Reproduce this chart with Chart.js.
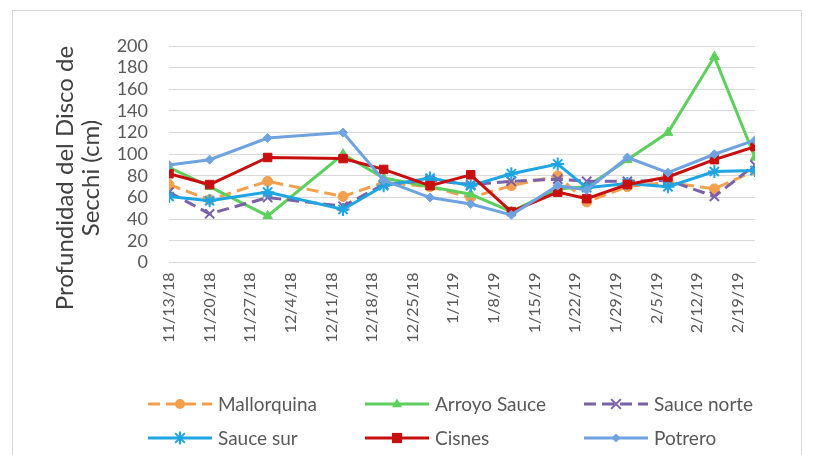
<!DOCTYPE html>
<html>
<head>
<meta charset="utf-8">
<script src="https://cdn.jsdelivr.net/npm/chart.js@4/dist/chart.umd.min.js"></script>
<style>
  html, body { margin: 0; padding: 0; background: #ffffff; }
  #wrap { position: relative; width: 814px; height: 455px; overflow: hidden; }
  #frame { position: absolute; left: 12px; top: 10px; width: 790px; height: 470px;
           border: 1px solid #d9d9d9; box-sizing: border-box; }
  canvas { position: absolute; left: 0; top: 0; }
</style>
</head>
<body>
<div id="wrap">
  <div id="frame"></div>
  <canvas id="c" width="814" height="455"></canvas>
</div>
<script>
// Sampling dates (m/d/yy)
const sampleDates = ['11/13/18', '11/20/18', '11/30/18', '12/13/18', '12/20/18', '12/28/18', '1/4/19',
                     '1/11/19', '1/19/19', '1/24/19', '1/31/19', '2/7/19', '2/15/19', '2/22/19'];

// Weekly axis labels
const tickLabels = ['11/13/18', '11/20/18', '11/27/18', '12/4/18', '12/11/18', '12/18/18', '12/25/18',
                    '1/1/19', '1/8/19', '1/15/19', '1/22/19', '1/29/19', '2/5/19', '2/12/19', '2/19/19'];

// Secchi disk depth (cm) per site
const mallorquina = [72, 58, 75, 61, 74, 70, 60, 71, 80, 56, 70, 74, 68, 85];
const arroyoSauce = [88, 70, 43, 100, 78, 70, 63, 47, 68, 70, 95, 120, 190, 97];
const sauceNorte  = [65, 45, 60, 52, 72, 76, 72, 75, 77, 75, 75, 76, 61, 90];
const sauceSur    = [61, 57, 65, 49, 71, 78, 71, 82, 91, 69, 73, 70, 84, 85];
const cisnes      = [82, 72, 97, 96, 86, 71, 81, 47, 65, 59, 72, 79, 95, 107];
const potrero     = [90, 95, 115, 120, 76, 60, 54, 44, 71, 67, 97, 83, 100, 113];

const seriesNames = ['Mallorquina', 'Arroyo Sauce', 'Sauce norte', 'Sauce sur', 'Cisnes', 'Potrero'];

const FONT = 'Lato, "Liberation Sans", sans-serif';

function dayIndex(label) {
  const [m, d, y] = label.split('/').map(Number);
  return Date.UTC(2000 + y, m - 1, d) / 86400000;
}
const day0 = dayIndex(tickLabels[0]);
const dayOf = (label) => dayIndex(label) - day0;
const toPoints = (values) => values.map((v, i) => ({ x: dayOf(sampleDates[i]), y: v }));

const styles = [
  { color: '#F2A04E', point: 'circle',   radius: 5,   dash: [12, 6], pbw: 1 },
  { color: '#5CCF5C', point: 'triangle', radius: 5.5, dash: [],      pbw: 1 },
  { color: '#7A62A8', point: 'crossRot', radius: 6.5, dash: [12, 6], pbw: 2 },
  { color: '#1EA5E3', point: 'star',     radius: 6.5, dash: [],      pbw: 2 },
  { color: '#C80F0F', point: 'rect',     radius: 6,   dash: [],      pbw: 1 },
  { color: '#6FA3E0', point: 'rectRot',  radius: 4.5, dash: [],      pbw: 1 }
];
const allValues = [mallorquina, arroyoSauce, sauceNorte, sauceSur, cisnes, potrero];

const datasets = allValues.map((vals, i) => ({
  label: seriesNames[i],
  data: toPoints(vals),
  borderColor: styles[i].color,
  backgroundColor: styles[i].color,
  borderWidth: 3,
  borderDash: styles[i].dash,
  pointStyle: styles[i].point,
  pointRadius: styles[i].radius,
  pointBorderWidth: styles[i].pbw,
  pointBorderColor: styles[i].color,
  pointBackgroundColor: styles[i].color,
  tension: 0,
  fill: false,
  order: allValues.length - i
}));

function drawMarker(ctx, style, x, y, r, color, lw) {
  ctx.save();
  ctx.setLineDash([]);
  ctx.fillStyle = color;
  ctx.strokeStyle = color;
  ctx.lineWidth = lw;
  ctx.beginPath();
  if (style === 'circle') {
    ctx.arc(x, y, r, 0, Math.PI * 2); ctx.fill();
  } else if (style === 'triangle') {
    ctx.moveTo(x, y - r); ctx.lineTo(x + r * 0.9, y + r * 0.6); ctx.lineTo(x - r * 0.9, y + r * 0.6);
    ctx.closePath(); ctx.fill();
  } else if (style === 'crossRot') {
    const k = r * 0.75;
    ctx.moveTo(x - k, y - k); ctx.lineTo(x + k, y + k); ctx.moveTo(x + k, y - k); ctx.lineTo(x - k, y + k);
    ctx.stroke();
  } else if (style === 'star') {
    const k = r * 0.75;
    ctx.moveTo(x - k, y - k); ctx.lineTo(x + k, y + k); ctx.moveTo(x + k, y - k); ctx.lineTo(x - k, y + k);
    ctx.moveTo(x, y - r); ctx.lineTo(x, y + r);
    ctx.stroke();
  } else if (style === 'rect') {
    ctx.rect(x - r * 0.85, y - r * 0.85, r * 1.7, r * 1.7); ctx.fill();
  } else if (style === 'rectRot') {
    ctx.moveTo(x, y - r); ctx.lineTo(x + r, y); ctx.lineTo(x, y + r); ctx.lineTo(x - r, y);
    ctx.closePath(); ctx.fill();
  }
  ctx.restore();
}

// Axis title and legend drawn on the canvas
const decorations = {
  id: 'decorations',
  afterDraw(chart) {
    const ctx = chart.ctx;
    ctx.save();
    // rotated y-axis title, two lines
    ctx.fillStyle = '#404040';
    ctx.font = '24px ' + FONT;
    ctx.textAlign = 'center';
    ctx.textBaseline = 'middle';
    const titleLines = ['Profundidad del Disco de', 'Secchi (cm)'];
    const titleX = [65, 91];
    titleLines.forEach((t, i) => {
      ctx.save();
      ctx.translate(titleX[i], 178);
      ctx.rotate(-Math.PI / 2);
      ctx.fillText(t, 0, 0);
      ctx.restore();
    });

    // legend: 3 columns x 2 rows
    const colX = [148, 365, 584];
    const rowY = [404, 438];
    const lineLen = 64;
    ctx.font = '19px ' + FONT;
    ctx.textAlign = 'left';
    chart.data.datasets.forEach((ds, i) => {
      const x = colX[i % 3];
      const y = rowY[Math.floor(i / 3)];
      ctx.save();
      ctx.strokeStyle = ds.borderColor;
      ctx.lineWidth = 3;
      ctx.setLineDash(ds.borderDash || []);
      ctx.beginPath();
      ctx.moveTo(x, y);
      ctx.lineTo(x + lineLen, y);
      ctx.stroke();
      ctx.restore();
      drawMarker(ctx, ds.pointStyle, x + lineLen / 2, y, ds.pointRadius, ds.borderColor, ds.pointBorderWidth);
      ctx.fillStyle = '#595959';
      ctx.fillText(ds.label, x + lineLen + 6, y + 1);
    });
    ctx.restore();
  }
};

new Chart(document.getElementById('c'), {
  type: 'line',
  data: { datasets },
  plugins: [decorations],
  options: {
    responsive: false,
    animation: false,
    devicePixelRatio: 1,
    layout: { padding: { left: 0, top: 46, right: 59, bottom: 0 } },
    plugins: { legend: { display: false }, tooltip: { enabled: false } },
    scales: {
      x: {
        type: 'linear',
        min: 0,
        max: 101,
        afterBuildTicks: (scale) => { scale.ticks = tickLabels.map(l => ({ value: dayOf(l) })); },
        afterFit: (scale) => { scale.height = 192.5; },
        ticks: {
          autoSkip: false,
          minRotation: 90,
          maxRotation: 90,
          padding: 10,
          color: '#595959',
          font: { family: FONT, size: 16 },
          callback: (value, index) => tickLabels[index]
        },
        grid: { display: false, drawTicks: false },
        border: { display: true, color: '#d9d9d9', width: 1 }
      },
      y: {
        min: 0,
        max: 200,
        afterFit: (scale) => { scale.width = 169; },
        ticks: {
          stepSize: 20,
          autoSkip: false,
          padding: 21,
          color: '#595959',
          font: { family: FONT, size: 18 }
        },
        grid: { color: '#d9d9d9', lineWidth: 1, drawTicks: false },
        border: { display: false }
      }
    }
  }
});
</script>
</body>
</html>
